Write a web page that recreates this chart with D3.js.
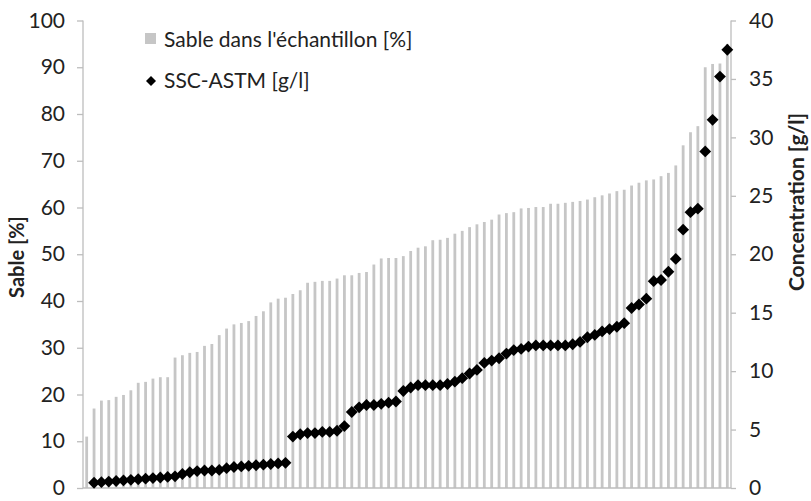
<!DOCTYPE html>
<html>
<head>
<meta charset="utf-8">
<script src="https://cdn.jsdelivr.net/npm/d3@7"></script>
<style>
  body { margin: 0; background: #fff; }
  text { font-family: Lato, "Open Sans", sans-serif; fill: #222; }
</style>
</head>
<body>
<svg id="chart" width="811" height="501"></svg>
<script>
// sand fraction of each sample, sorted ascending (left axis, %)
const sand = [11.0, 17.0, 18.7, 18.8, 19.5, 19.9, 20.9, 22.5, 22.7, 23.4,
  23.7, 23.7, 27.9, 28.4, 28.9, 29.1, 30.4, 30.8, 32.7, 34.1,
  35.0, 35.3, 35.7, 36.8, 37.8, 39.7, 40.5, 40.7, 41.5, 42.3,
  43.9, 44.1, 44.3, 44.3, 44.8, 45.5, 45.5, 46.0, 46.2, 47.8,
  49.1, 49.2, 49.2, 49.6, 50.7, 51.4, 51.7, 53.0, 53.1, 53.5,
  54.4, 55.0, 55.8, 56.4, 56.9, 57.4, 58.5, 58.8, 59.0, 59.8,
  59.9, 60.1, 60.1, 60.8, 60.8, 61.0, 61.2, 61.4, 61.7, 62.2,
  62.6, 63.0, 63.5, 63.8, 64.7, 65.3, 65.8, 66.0, 66.7, 67.4,
  69.0, 73.3, 76.1, 77.4, 90.0, 90.7, 90.8, 95.0];

// SSC-ASTM concentration (right axis, g/l)
const ssc = [null, 0.45, 0.5, 0.55, 0.6, 0.65, 0.7, 0.75, 0.8, 0.85,
  0.9, 0.95, 1.0, 1.2, 1.35, 1.45, 1.5, 1.5, 1.55, 1.7,
  1.8, 1.85, 1.9, 1.95, 2.0, 2.05, 2.1, 2.15, 4.4, 4.6,
  4.7, 4.7, 4.8, 4.8, 4.9, 5.3, 6.5, 6.9, 7.1, 7.1,
  7.2, 7.3, 7.4, 8.3, 8.6, 8.8, 8.8, 8.8, 8.8, 8.9,
  9.1, 9.4, 9.8, 10.1, 10.7, 10.9, 11.1, 11.5, 11.8, 11.9,
  12.1, 12.2, 12.2, 12.2, 12.2, 12.2, 12.3, 12.5, 12.9, 13.1,
  13.4, 13.6, 13.8, 14.1, 15.4, 15.7, 16.2, 17.7, 17.8, 18.5,
  19.6, 22.1, 23.6, 23.9, 28.8, 31.5, 35.2, 37.5];

const samples = sand.map((d, i) => i + 1);
const leftTicks = [0, 10, 20, 30, 40, 50, 60, 70, 80, 90, 100];
const rightTicks = [0, 5, 10, 15, 20, 25, 30, 35, 40];

const legendLabels = ["Sable dans l'échantillon [%]", "SSC-ASTM [g/l]"];
const yLeftTitle = "Sable [%]";
const yRightTitle = "Concentration [g/l]";

function drawChart() {
    var svg = d3.select('#chart');
    var x0 = 83, x1 = 731, yTop = 20.5, yBottom = 488;
    var axisColor = '#bdbdbd', barColor = '#c6c6c6';

    var x = d3.scaleBand()
        .domain(samples)
        .range([x0, x1])
        .paddingInner(0.62)
        .paddingOuter(0.31);

    var yL = d3.scaleLinear().domain([0, 100]).range([yBottom, yTop]);
    var yR = d3.scaleLinear().domain([0, 40]).range([yBottom, yTop]);

    // bars
    svg.append('g').attr('id', 'bars')
        .selectAll('rect')
        .data(sand)
        .enter().append('rect')
        .attr('x', function(d, i) { return x(samples[i]); })
        .attr('width', x.bandwidth())
        .attr('y', function(d) { return yL(d); })
        .attr('height', function(d) { return yBottom - yL(d); })
        .style('fill', barColor);

    // axes
    var leftAxis = svg.append('g')
        .attr('transform', 'translate(' + x0 + ',0)')
        .call(d3.axisLeft(yL).tickValues(leftTicks).tickSize(6).tickPadding(12));
    var rightAxis = svg.append('g')
        .attr('transform', 'translate(' + x1 + ',0)')
        .call(d3.axisRight(yR).tickValues(rightTicks).tickSize(5).tickPadding(13));

    [leftAxis, rightAxis].forEach(function(a) {
        a.select('.domain').attr('stroke', axisColor).attr('stroke-width', 1.3)
            .attr('d', 'M0,' + yTop + 'V' + yBottom);
        a.selectAll('.tick line').attr('stroke', axisColor).attr('stroke-width', 1.3);
        a.selectAll('.tick text')
            .style('font-family', 'Lato, sans-serif')
            .style('font-size', '21px')
            .attr('fill', '#222');
    });

    // bottom axis line
    svg.append('line')
        .attr('x1', x0).attr('x2', x1)
        .attr('y1', yBottom).attr('y2', yBottom)
        .attr('stroke', axisColor).attr('stroke-width', 1.3);

    // diamonds
    var diamond = d3.symbol().type(d3.symbolSquare).size(70);
    svg.append('g').attr('id', 'points')
        .selectAll('path')
        .data(ssc.map(function(v, i) { return {v: v, s: samples[i]}; })
            .filter(function(d) { return d.v != null; }))
        .enter().append('path')
        .attr('d', diamond)
        .attr('transform', function(d) {
            return 'translate(' + (x(d.s) + x.bandwidth() / 2) + ',' + yR(d.v) + ') rotate(45)';
        })
        .style('fill', '#000');

    // axis titles
    svg.append('text')
        .attr('transform', 'translate(24,257) rotate(-90)')
        .attr('text-anchor', 'middle')
        .style('font-size', '20px').style('font-weight', 'bold')
        .text(yLeftTitle);
    svg.append('text')
        .attr('transform', 'translate(804,202) rotate(-90)')
        .attr('text-anchor', 'middle')
        .style('font-size', '21px').style('font-weight', 'bold')
        .text(yRightTitle);

    // legend
    var legend = svg.append('g');
    legend.append('rect')
        .attr('x', 145).attr('y', 33).attr('width', 11).attr('height', 11)
        .style('fill', barColor);
    legend.append('path')
        .attr('d', d3.symbol().type(d3.symbolSquare).size(50))
        .attr('transform', 'translate(151,81) rotate(45)')
        .style('fill', '#000');
    legend.selectAll('text')
        .data(legendLabels)
        .enter().append('text')
        .attr('x', 164)
        .attr('y', function(d, i) { return i === 0 ? 46.5 : 88; })
        .style('font-size', '21px')
        .text(function(d) { return d; });
}

drawChart();
</script>
</body>
</html>
